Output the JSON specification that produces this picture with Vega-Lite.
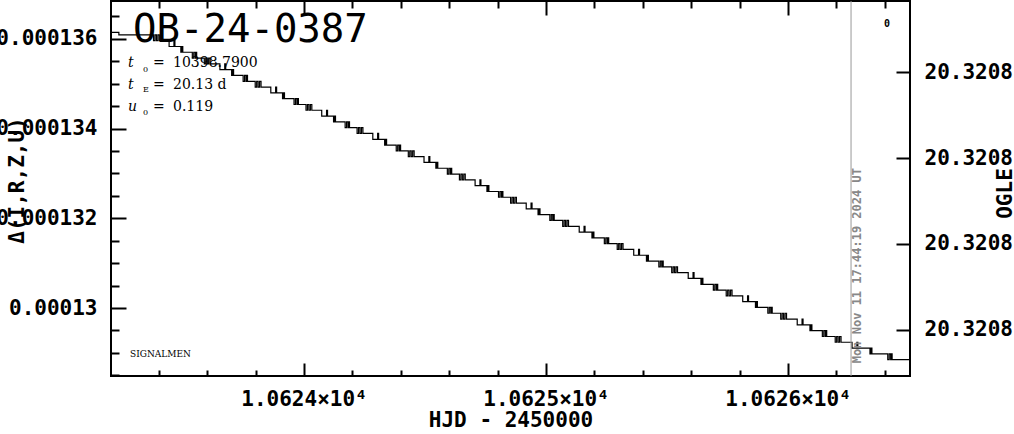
{
  "$schema": "https://vega.github.io/schema/vega-lite/v6.json",
  "width": 799,
  "height": 375,
  "autosize": "none",
  "padding": {"left": 111, "top": 1, "right": 104, "bottom": 58},
  "background": "white",
  "config": {
    "view": {"stroke": "black", "strokeWidth": 2},
    "axis": {
      "grid": false, "domain": false, "tickColor": "black", "tickWidth": 2,
      "labelColor": "black", "labelFont": "DejaVu Sans Mono", "labelFontSize": 21, "labelFontWeight": "bold",
      "titleFont": "DejaVu Sans Mono", "titleFontSize": 21, "titleFontWeight": "bold", "titleColor": "black",
      "labelFlush": false, "labelOverlap": false
    }
  },
  "datasets": {
    "lc": [
      {"t":10623.19,"v":0.00013609},{"t":10623.2,"v":0.000136145},{"t":10623.235,"v":0.00013609},
      {"t":10623.3781,"v":0.000135961},{"t":10623.3841,"v":0.00013609},{"t":10623.3901,"v":0.000135961},{"t":10623.3961,"v":0.00013609},{"t":10623.4021,"v":0.000135961},
      {"t":10623.4426,"v":0.000135831},{"t":10623.4626,"v":0.000135961},{"t":10623.4666,"v":0.000135831},
      {"t":10623.4911,"v":0.000135702},{"t":10623.4951,"v":0.000135831},{"t":10623.4991,"v":0.000135702},
      {"t":10623.5385,"v":0.000135573},{"t":10623.5445,"v":0.000135702},{"t":10623.5505,"v":0.000135573},{"t":10623.5535,"v":0.000135702},{"t":10623.5565,"v":0.000135573},
      {"t":10623.588,"v":0.000135443},{"t":10623.594,"v":0.000135573},{"t":10623.6,"v":0.000135443},{"t":10623.606,"v":0.000135573},{"t":10623.612,"v":0.000135443},
      {"t":10623.6525,"v":0.000135314},{"t":10623.6725,"v":0.000135443},{"t":10623.6765,"v":0.000135314},
      {"t":10623.701,"v":0.000135185},{"t":10623.705,"v":0.000135314},{"t":10623.709,"v":0.000135185},
      {"t":10623.7485,"v":0.000135055},{"t":10623.7545,"v":0.000135185},{"t":10623.7605,"v":0.000135055},{"t":10623.7635,"v":0.000135185},{"t":10623.7665,"v":0.000135055},
      {"t":10623.7984,"v":0.000134926},{"t":10623.8044,"v":0.000135055},{"t":10623.8104,"v":0.000134926},{"t":10623.8164,"v":0.000135055},{"t":10623.8224,"v":0.000134926},
      {"t":10623.8628,"v":0.000134797},{"t":10623.8828,"v":0.000134926},{"t":10623.8868,"v":0.000134797},
      {"t":10623.9113,"v":0.000134667},{"t":10623.9153,"v":0.000134797},{"t":10623.9193,"v":0.000134667},
      {"t":10623.9588,"v":0.000134538},{"t":10623.9648,"v":0.000134667},{"t":10623.9708,"v":0.000134538},{"t":10623.9738,"v":0.000134667},{"t":10623.9768,"v":0.000134538},
      {"t":10624.0083,"v":0.000134409},{"t":10624.0143,"v":0.000134538},{"t":10624.0203,"v":0.000134409},{"t":10624.0263,"v":0.000134538},{"t":10624.0323,"v":0.000134409},
      {"t":10624.0732,"v":0.00013428},{"t":10624.0932,"v":0.000134409},{"t":10624.0972,"v":0.00013428},
      {"t":10624.1221,"v":0.00013415},{"t":10624.1261,"v":0.00013428},{"t":10624.1301,"v":0.00013415},
      {"t":10624.17,"v":0.000134021},{"t":10624.176,"v":0.00013415},{"t":10624.182,"v":0.000134021},{"t":10624.185,"v":0.00013415},{"t":10624.188,"v":0.000134021},
      {"t":10624.2194,"v":0.000133892},{"t":10624.2254,"v":0.000134021},{"t":10624.2314,"v":0.000133892},{"t":10624.2374,"v":0.000134021},{"t":10624.2434,"v":0.000133892},
      {"t":10624.2843,"v":0.000133762},{"t":10624.3043,"v":0.000133892},{"t":10624.3083,"v":0.000133762},
      {"t":10624.3332,"v":0.000133633},{"t":10624.3372,"v":0.000133762},{"t":10624.3412,"v":0.000133633},
      {"t":10624.3811,"v":0.000133504},{"t":10624.3871,"v":0.000133633},{"t":10624.3931,"v":0.000133504},{"t":10624.3961,"v":0.000133633},{"t":10624.3991,"v":0.000133504},
      {"t":10624.431,"v":0.000133374},{"t":10624.437,"v":0.000133504},{"t":10624.443,"v":0.000133374},{"t":10624.449,"v":0.000133504},{"t":10624.455,"v":0.000133374},
      {"t":10624.4959,"v":0.000133245},{"t":10624.5159,"v":0.000133374},{"t":10624.5199,"v":0.000133245},
      {"t":10624.5448,"v":0.000133116},{"t":10624.5488,"v":0.000133245},{"t":10624.5528,"v":0.000133116},
      {"t":10624.5923,"v":0.000132986},{"t":10624.5983,"v":0.000133116},{"t":10624.6043,"v":0.000132986},{"t":10624.6073,"v":0.000133116},{"t":10624.6103,"v":0.000132986},
      {"t":10624.6422,"v":0.000132857},{"t":10624.6482,"v":0.000132986},{"t":10624.6542,"v":0.000132857},{"t":10624.6602,"v":0.000132986},{"t":10624.6662,"v":0.000132857},
      {"t":10624.707,"v":0.000132728},{"t":10624.727,"v":0.000132857},{"t":10624.731,"v":0.000132728},
      {"t":10624.7559,"v":0.000132598},{"t":10624.7599,"v":0.000132728},{"t":10624.7639,"v":0.000132598},
      {"t":10624.8038,"v":0.000132469},{"t":10624.8098,"v":0.000132598},{"t":10624.8158,"v":0.000132469},{"t":10624.8188,"v":0.000132598},{"t":10624.8218,"v":0.000132469},
      {"t":10624.8537,"v":0.00013234},{"t":10624.8597,"v":0.000132469},{"t":10624.8657,"v":0.00013234},{"t":10624.8717,"v":0.000132469},{"t":10624.8777,"v":0.00013234},
      {"t":10624.9182,"v":0.00013221},{"t":10624.9382,"v":0.00013234},{"t":10624.9422,"v":0.00013221},
      {"t":10624.9671,"v":0.000132081},{"t":10624.9711,"v":0.00013221},{"t":10624.9751,"v":0.000132081},
      {"t":10625.0158,"v":0.000131952},{"t":10625.0218,"v":0.000132081},{"t":10625.0278,"v":0.000131952},{"t":10625.0308,"v":0.000132081},{"t":10625.0338,"v":0.000131952},
      {"t":10625.069,"v":0.000131822},{"t":10625.075,"v":0.000131952},{"t":10625.081,"v":0.000131822},{"t":10625.087,"v":0.000131952},{"t":10625.093,"v":0.000131822},
      {"t":10625.1372,"v":0.000131693},{"t":10625.1572,"v":0.000131822},{"t":10625.1612,"v":0.000131693},
      {"t":10625.1898,"v":0.000131564},{"t":10625.1938,"v":0.000131693},{"t":10625.1978,"v":0.000131564},
      {"t":10625.241,"v":0.000131434},{"t":10625.247,"v":0.000131564},{"t":10625.253,"v":0.000131434},{"t":10625.256,"v":0.000131564},{"t":10625.259,"v":0.000131434},
      {"t":10625.2942,"v":0.000131305},{"t":10625.3002,"v":0.000131434},{"t":10625.3062,"v":0.000131305},{"t":10625.3122,"v":0.000131434},{"t":10625.3182,"v":0.000131305},
      {"t":10625.3624,"v":0.000131176},{"t":10625.3824,"v":0.000131305},{"t":10625.3864,"v":0.000131176},
      {"t":10625.415,"v":0.000131047},{"t":10625.419,"v":0.000131176},{"t":10625.423,"v":0.000131047},
      {"t":10625.4662,"v":0.000130917},{"t":10625.4722,"v":0.000131047},{"t":10625.4782,"v":0.000130917},{"t":10625.4812,"v":0.000131047},{"t":10625.4842,"v":0.000130917},
      {"t":10625.5194,"v":0.000130788},{"t":10625.5254,"v":0.000130917},{"t":10625.5314,"v":0.000130788},{"t":10625.5374,"v":0.000130917},{"t":10625.5434,"v":0.000130788},
      {"t":10625.5876,"v":0.000130659},{"t":10625.6076,"v":0.000130788},{"t":10625.6116,"v":0.000130659},
      {"t":10625.6402,"v":0.000130529},{"t":10625.6442,"v":0.000130659},{"t":10625.6482,"v":0.000130529},
      {"t":10625.6914,"v":0.0001304},{"t":10625.6974,"v":0.000130529},{"t":10625.7034,"v":0.0001304},{"t":10625.7064,"v":0.000130529},{"t":10625.7094,"v":0.0001304},
      {"t":10625.7446,"v":0.000130271},{"t":10625.7506,"v":0.0001304},{"t":10625.7566,"v":0.000130271},{"t":10625.7626,"v":0.0001304},{"t":10625.7686,"v":0.000130271},
      {"t":10625.8128,"v":0.000130141},{"t":10625.8328,"v":0.000130271},{"t":10625.8368,"v":0.000130141},
      {"t":10625.8654,"v":0.000130012},{"t":10625.8694,"v":0.000130141},{"t":10625.8734,"v":0.000130012},
      {"t":10625.9166,"v":0.000129883},{"t":10625.9226,"v":0.000130012},{"t":10625.9286,"v":0.000129883},{"t":10625.9316,"v":0.000130012},{"t":10625.9346,"v":0.000129883},
      {"t":10625.9698,"v":0.000129753},{"t":10625.9758,"v":0.000129883},{"t":10625.9818,"v":0.000129753},{"t":10625.9878,"v":0.000129883},{"t":10625.9938,"v":0.000129753},
      {"t":10626.038,"v":0.000129624},{"t":10626.058,"v":0.000129753},{"t":10626.062,"v":0.000129624},
      {"t":10626.0906,"v":0.000129495},{"t":10626.0946,"v":0.000129624},{"t":10626.0986,"v":0.000129495},
      {"t":10626.1418,"v":0.000129365},{"t":10626.1478,"v":0.000129495},{"t":10626.1538,"v":0.000129365},{"t":10626.1568,"v":0.000129495},{"t":10626.1598,"v":0.000129365},
      {"t":10626.195,"v":0.000129236},{"t":10626.201,"v":0.000129365},{"t":10626.207,"v":0.000129236},{"t":10626.213,"v":0.000129365},{"t":10626.219,"v":0.000129236},
      {"t":10626.2645,"v":0.000129107},{"t":10626.2845,"v":0.000129236},{"t":10626.2885,"v":0.000129107},
      {"t":10626.3386,"v":0.000128977},{"t":10626.3426,"v":0.000129107},{"t":10626.3466,"v":0.000128977},
      {"t":10626.4121,"v":0.000128848},{"t":10626.4181,"v":0.000128977},{"t":10626.4241,"v":0.000128848},{"t":10626.4271,"v":0.000128977},{"t":10626.4301,"v":0.000128848},
      {"t":10626.52,"v":0.000128848}
    ]
  },
  "resolve": {"scale": {"y": "independent"}, "axis": {"x": "independent", "y": "independent"}},
  "layer": [
    {
      "data": {"name": "lc"},
      "mark": {"type": "line", "interpolate": "step-after", "color": "black", "strokeWidth": 1.2, "clip": true},
      "encoding": {
        "x": {"field": "t", "type": "quantitative",
          "scale": {"domain": [10623.2025, 10626.504], "nice": false, "zero": false},
          "axis": {"orient": "bottom", "values": [10624, 10625, 10626], "labelExpr": "format(datum.value / 10000, '.4f') + '×10⁴'",
            "tickSize": -13, "labelPadding": 25, "title": "HJD - 2450000", "titleY": 50, "titleBaseline": "alphabetic"}},
        "y": {"field": "v", "type": "quantitative",
          "scale": {"domain": [0.0001284838, 0.0001368452], "nice": false, "zero": false},
          "axis": {"orient": "left", "values": [0.00013, 0.000132, 0.000134, 0.000136], "format": ".6~f",
            "tickSize": -15, "labelPadding": 29, "title": "Δ(I,R,Z,U)", "titleAngle": 270, "titleX": -94, "titleY": 179,
            "titleBaseline": "middle", "titleAlign": "center"}}
      }
    },
    {
      "data": {"name": "lc"},
      "mark": {"type": "point", "opacity": 0},
      "encoding": {
        "x": {"field": "t", "type": "quantitative",
          "scale": {"domain": [10623.2025, 10626.504], "nice": false, "zero": false},
          "axis": {"orient": "bottom", "values": [10623.4, 10623.6, 10623.8, 10624.2, 10624.4, 10624.6, 10624.8, 10625.2, 10625.4, 10625.6, 10625.8, 10626.2, 10626.4],
            "labels": false, "tickSize": -6, "title": null}},
        "y": {"field": "v", "type": "quantitative",
          "scale": {"domain": [0.0001284838, 0.0001368452], "nice": false, "zero": false},
          "axis": {"orient": "left", "values": [0.0001285, 0.000129, 0.0001295, 0.0001305, 0.000131, 0.0001315, 0.0001325, 0.000133, 0.0001335, 0.0001345, 0.000135, 0.0001355, 0.0001365],
            "labels": false, "tickSize": -8, "title": null}}
      }
    },
    {
      "data": {"name": "lc"},
      "mark": {"type": "point", "opacity": 0},
      "encoding": {
        "x": {"field": "t", "type": "quantitative",
          "scale": {"domain": [10623.2025, 10626.504], "nice": false, "zero": false},
          "axis": {"orient": "top", "values": [10624, 10625, 10626], "labels": false, "tickSize": -14, "title": null}}
      }
    },
    {
      "data": {"name": "lc"},
      "mark": {"type": "point", "opacity": 0},
      "encoding": {
        "x": {"field": "t", "type": "quantitative",
          "scale": {"domain": [10623.2025, 10626.504], "nice": false, "zero": false},
          "axis": {"orient": "top", "values": [10623.4, 10623.6, 10623.8, 10624.2, 10624.4, 10624.6, 10624.8, 10625.2, 10625.4, 10625.6, 10625.8, 10626.2, 10626.4],
            "labels": false, "tickSize": -7, "title": null}}
      }
    },
    {
      "data": {"values": [{"m": 20.32078}, {"m": 20.32081}]},
      "mark": {"type": "point", "opacity": 0},
      "encoding": {
        "y": {"field": "m", "type": "quantitative",
          "scale": {"domain": [20.3207717, 20.3208154], "nice": false, "zero": false, "reverse": true},
          "axis": {"orient": "right", "values": [20.32078, 20.32079, 20.3208, 20.32081], "format": ".4f",
            "tickSize": -14, "labelPadding": 28, "title": "OGLE", "titleAngle": 270, "titleX": 95, "titleY": 192,
            "titleBaseline": "middle", "titleAlign": "center"}}
      }
    },
    {
      "data": {"values": [{"t": 10626.2604}]},
      "mark": {"type": "rule", "color": "#999999", "strokeWidth": 1},
      "encoding": {
        "x": {"field": "t", "type": "quantitative",
          "scale": {"domain": [10623.2025, 10626.504], "nice": false, "zero": false}, "axis": null}
      }
    },
    {
      "data": {"values": [{"t": 10626.2645, "v": 0.00012877, "label": "Mon Nov 11 17:44:19 2024 UT"}]},
      "mark": {"type": "text", "angle": 270, "align": "left", "baseline": "top", "font": "DejaVu Sans Mono", "fontWeight": "bold", "fontSize": 12, "color": "#888888"},
      "encoding": {
        "x": {"field": "t", "type": "quantitative", "scale": {"domain": [10623.2025, 10626.504], "nice": false, "zero": false}, "axis": null},
        "y": {"field": "v", "type": "quantitative", "scale": {"domain": [0.0001284838, 0.0001368452], "nice": false, "zero": false}, "axis": null},
        "text": {"field": "label"}
      }
    },
    {
      "data": {"values": [{"t": 10623.2934, "v": 0.000135933, "label": "OB-24-0387"}]},
      "mark": {"type": "text", "align": "left", "baseline": "alphabetic", "font": "DejaVu Sans Mono", "fontSize": 39, "color": "black"},
      "encoding": {
        "x": {"field": "t", "type": "quantitative", "scale": {"domain": [10623.2025, 10626.504], "nice": false, "zero": false}, "axis": null},
        "y": {"field": "v", "type": "quantitative", "scale": {"domain": [0.0001284838, 0.0001368452], "nice": false, "zero": false}, "axis": null},
        "text": {"field": "label"}
      }
    },
    {
      "data": {"values": [
        {"t": 10623.2727, "v": 0.000135375, "label": "t"},
        {"t": 10623.2727, "v": 0.000134885, "label": "t"},
        {"t": 10623.2727, "v": 0.000134394, "label": "u"}
      ]},
      "mark": {"type": "text", "align": "left", "baseline": "alphabetic", "font": "DejaVu Serif", "fontStyle": "italic", "fontSize": 14, "color": "black"},
      "encoding": {
        "x": {"field": "t", "type": "quantitative", "scale": {"domain": [10623.2025, 10626.504], "nice": false, "zero": false}, "axis": null},
        "y": {"field": "v", "type": "quantitative", "scale": {"domain": [0.0001284838, 0.0001368452], "nice": false, "zero": false}, "axis": null},
        "text": {"field": "label"}
      }
    },
    {
      "data": {"values": [
        {"t": 10623.3347, "v": 0.000135264, "label": "0"},
        {"t": 10623.3347, "v": 0.000134818, "label": "E"},
        {"t": 10623.3347, "v": 0.000134305, "label": "0"}
      ]},
      "mark": {"type": "text", "align": "left", "baseline": "alphabetic", "font": "DejaVu Serif", "fontSize": 8, "color": "black"},
      "encoding": {
        "x": {"field": "t", "type": "quantitative", "scale": {"domain": [10623.2025, 10626.504], "nice": false, "zero": false}, "axis": null},
        "y": {"field": "v", "type": "quantitative", "scale": {"domain": [0.0001284838, 0.0001368452], "nice": false, "zero": false}, "axis": null},
        "text": {"field": "label"}
      }
    },
    {
      "data": {"values": [
        {"t": 10623.3761, "v": 0.000135375, "label": "="},
        {"t": 10623.3761, "v": 0.000134885, "label": "="},
        {"t": 10623.3761, "v": 0.000134394, "label": "="}
      ]},
      "mark": {"type": "text", "align": "left", "baseline": "alphabetic", "font": "DejaVu Serif", "fontSize": 14, "color": "black"},
      "encoding": {
        "x": {"field": "t", "type": "quantitative", "scale": {"domain": [10623.2025, 10626.504], "nice": false, "zero": false}, "axis": null},
        "y": {"field": "v", "type": "quantitative", "scale": {"domain": [0.0001284838, 0.0001368452], "nice": false, "zero": false}, "axis": null},
        "text": {"field": "label"}
      }
    },
    {
      "data": {"values": [
        {"t": 10623.4587, "v": 0.000135375, "label": "10398.7900"},
        {"t": 10623.4587, "v": 0.000134885, "label": "20.13 d"},
        {"t": 10623.4587, "v": 0.000134394, "label": "0.119"}
      ]},
      "mark": {"type": "text", "align": "left", "baseline": "alphabetic", "font": "DejaVu Serif", "fontSize": 14, "color": "black"},
      "encoding": {
        "x": {"field": "t", "type": "quantitative", "scale": {"domain": [10623.2025, 10626.504], "nice": false, "zero": false}, "axis": null},
        "y": {"field": "v", "type": "quantitative", "scale": {"domain": [0.0001284838, 0.0001368452], "nice": false, "zero": false}, "axis": null},
        "text": {"field": "label"}
      }
    },
    {
      "data": {"values": [{"t": 10623.281, "v": 0.000128907, "label": "SIGNALMEN"}]},
      "mark": {"type": "text", "align": "left", "baseline": "alphabetic", "font": "DejaVu Serif", "fontSize": 9, "color": "black"},
      "encoding": {
        "x": {"field": "t", "type": "quantitative", "scale": {"domain": [10623.2025, 10626.504], "nice": false, "zero": false}, "axis": null},
        "y": {"field": "v", "type": "quantitative", "scale": {"domain": [0.0001284838, 0.0001368452], "nice": false, "zero": false}, "axis": null},
        "text": {"field": "label"}
      }
    },
    {
      "data": {"values": [{"t": 10626.4091, "v": 0.00013634, "label": "0"}]},
      "mark": {"type": "text", "align": "center", "baseline": "middle", "font": "DejaVu Sans Mono", "fontWeight": "bold", "fontSize": 10, "color": "black"},
      "encoding": {
        "x": {"field": "t", "type": "quantitative", "scale": {"domain": [10623.2025, 10626.504], "nice": false, "zero": false}, "axis": null},
        "y": {"field": "v", "type": "quantitative", "scale": {"domain": [0.0001284838, 0.0001368452], "nice": false, "zero": false}, "axis": null},
        "text": {"field": "label"}
      }
    }
  ]
}
